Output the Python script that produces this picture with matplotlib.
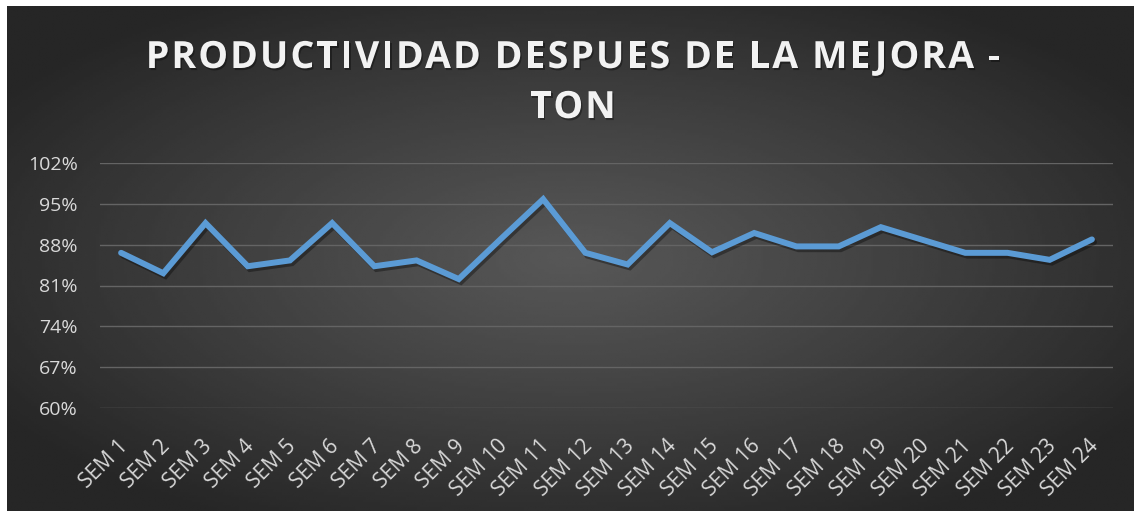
"""
Productividad despues de la mejora - line chart on dark radial background
"""
import numpy as np
import matplotlib
matplotlib.use("Agg")
import matplotlib.pyplot as plt
import matplotlib.patheffects as pe
import matplotlib.transforms as mtransforms
from matplotlib.ticker import FuncFormatter

weeks = [f"SEM {i}" for i in range(1, 25)]
productividad = [86.6, 83.1, 91.7, 84.3, 85.3, 91.7, 84.3, 85.3, 82.1, 89.0,
                 95.8, 86.6, 84.6, 91.7, 86.7, 90.0, 87.7, 87.7, 91.0, 88.8,
                 86.6, 86.6, 85.4, 88.9]
y_ticks = [60, 67, 74, 81, 88, 95, 102]
title_lines = ["PRODUCTIVIDAD DESPUES DE LA MEJORA -", "TON"]

W, H = 1134, 511
fig = plt.figure(figsize=(W / 100, H / 100), dpi=100, facecolor="white")

# radial gradient background (dark edges, lighter centre)
bg = fig.add_axes([7 / W, 0, 1 - 7 / W, 1 - 6 / H])
bg.set_axis_off()
gx, gy = np.meshgrid(np.linspace(-1, 1, 400), np.linspace(-1, 1, 200))
r = np.sqrt(gx ** 2 + gy ** 2) / np.sqrt(2)
r = np.clip(r / 0.85, 0, 1)
center, edge = 0x57 / 255, 0x26 / 255
img = center - (center - edge) * r ** 1.1
bg.imshow(img, cmap="gray", vmin=0, vmax=1, aspect="auto",
          extent=(0, 1, 0, 1), interpolation="bilinear")

ax = fig.add_axes([100 / W, 1 - 408 / H, (1113 - 100) / W, (408 - 163) / H])
ax.set_facecolor("none")

x = np.arange(len(weeks))
ax.plot(x, productividad, color="#5b9bd5", lw=4.3, solid_joinstyle="miter",
        solid_capstyle="round", zorder=3,
        path_effects=[pe.SimpleLineShadow(offset=(1.5, -2), shadow_color="black",
                                          alpha=0.35),
                      pe.Normal()])

ax.set_xlim(-0.5, len(weeks) - 0.5)
ax.set_ylim(60, 102)
ax.set_yticks(y_ticks)
ax.yaxis.set_major_formatter(FuncFormatter(lambda v, p: f"{v:.0f}%"))
ax.grid(axis="y", color="#646464", lw=1.0)
ax.set_axisbelow(True)
for s in ax.spines.values():
    s.set_visible(False)

ax.set_xticks(x)
ax.set_xticklabels(weeks, rotation=45, ha="right", va="top",
                   rotation_mode="anchor")
ax.tick_params(axis="both", length=0, colors="#d9d9d9", labelsize=14)
ax.tick_params(axis="x", labelsize=15, pad=9)
ax.tick_params(axis="y", pad=16)
shift = mtransforms.ScaledTranslation(-4 / 100, -15 / 100, fig.dpi_scale_trans)
for lab in ax.get_xticklabels():
    lab.set_fontfamily("Open Sans")
    lab.set_transform(lab.get_transform() + shift)
for lab in ax.get_yticklabels():
    lab.set_fontfamily("Open Sans")


# title with wide letter spacing, drawn char by char
title_kw = dict(color="#f2f2f2", fontsize=27, fontweight="bold",
                family="Open Sans")
renderer = fig.canvas.get_renderer()


def text_width(t):
    tt = fig.text(0, 0, t, **title_kw)
    w = tt.get_window_extent(renderer).width
    tt.remove()
    return w


def spaced_title(s, xc, baseline, tracking):
    total = text_width(s) + tracking * (len(s) - 1)
    x0 = xc - total / 2
    for i, ch in enumerate(s):
        if ch == " ":
            continue
        left = text_width(s[:i + 1]) - text_width(ch) + tracking * i
        fig.text((x0 + left) / W, 1 - baseline / H, ch, ha="left",
                 va="baseline", **title_kw,
                 path_effects=[pe.withSimplePatchShadow(offset=(1, -1.5),
                                                        shadow_rgbFace="black",
                                                        alpha=0.35)])


spaced_title(title_lines[0], 573, 68, 2.1)
spaced_title(title_lines[1], 573, 118, 2.1)

fig.savefig("out.png", dpi=100, facecolor="white")
